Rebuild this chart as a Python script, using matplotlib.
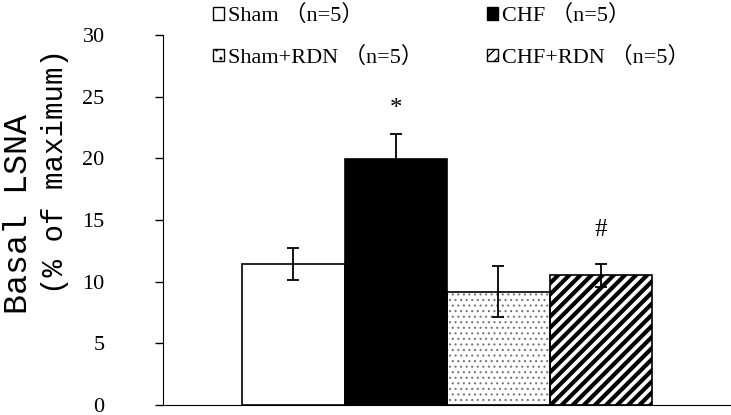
import matplotlib.pyplot as plt
from matplotlib.patches import Patch
import numpy as np

groups = ['Sham （n=5）', 'CHF （n=5）', 'Sham+RDN （n=5）', 'CHF+RDN （n=5）']
means = [11.4, 19.9, 9.2, 10.5]
errs = [1.3, 2.1, 2.05, 0.95]
marks = ['', '*', '', '#']
mark_y = [0, 24.0, 0, 14.2]

fills = ['white', 'black', 'white', 'white']
hatches = [None, None, '..', '///']

serif = ['Liberation Serif', 'Noto Sans CJK SC']

fig = plt.figure(figsize=(7.31, 4.15), dpi=100)
ax = fig.add_axes([0.223, 0.024, 0.776, 0.892])

x = np.arange(len(means))
# dotted texture in grey, stripes thick black
with plt.rc_context({'hatch.linewidth': 0.8}):
    ax.bar(x[2], means[2], width=1.0, color='white', edgecolor='#777777',
           hatch='...', linewidth=0)
with plt.rc_context({'hatch.linewidth': 3.0}):
    ax.bar(x[3], means[3], width=1.0, color='white', edgecolor='black',
           hatch='///', linewidth=0)
ax.bar(x, means, width=1.0, color=['white', 'black', 'none', 'none'],
       edgecolor='black', linewidth=1.2)
ax.errorbar(x, means, yerr=errs, fmt='none', ecolor='black', elinewidth=1.3,
            capsize=4.5, capthick=1.3)
for xi, m, my in zip(x, marks, mark_y):
    if m:
        ax.text(xi, my, m, ha='center', va='center', fontsize=18, family=serif)

ax.set_xlim(-1.27, 4.26)
ax.set_ylim(0, 30)
ax.set_yticks(range(0, 31, 5))
ax.set_xticks([])
ax.spines['top'].set_visible(False)
ax.spines['right'].set_visible(False)
ax.tick_params(axis='y', direction='out', length=6, width=1, labelsize=16, pad=36)
for lab in ax.get_yticklabels():
    lab.set_family(serif)
ax.text(-0.255, 0.515, 'Basal LSNA', transform=ax.transAxes, rotation=90,
        ha='center', va='center', family='Liberation Mono', fontsize=24)
ax.text(-0.191, 0.63, '(% of maximum)', transform=ax.transAxes, rotation=90,
        ha='center', va='center', family='Liberation Mono', fontsize=21)

with plt.rc_context({'hatch.linewidth': 1.0}):
    handles = [Patch(facecolor=fills[i], edgecolor='black', hatch=hatches[i], linewidth=1)
               for i in range(4)]
order = [0, 2, 1, 3]
leg = fig.legend([handles[i] for i in order], [groups[i] for i in order], ncol=2,
                 loc='upper left', bbox_to_anchor=(0.291, 0.988), frameon=False,
                 borderpad=0, borderaxespad=0,
                 handlelength=0.5, handleheight=0.5, handletextpad=0.2,
                 columnspacing=2.85, labelspacing=0.93,
                 prop={'family': serif, 'size': 16})

fig.savefig('out.png', dpi=100)
